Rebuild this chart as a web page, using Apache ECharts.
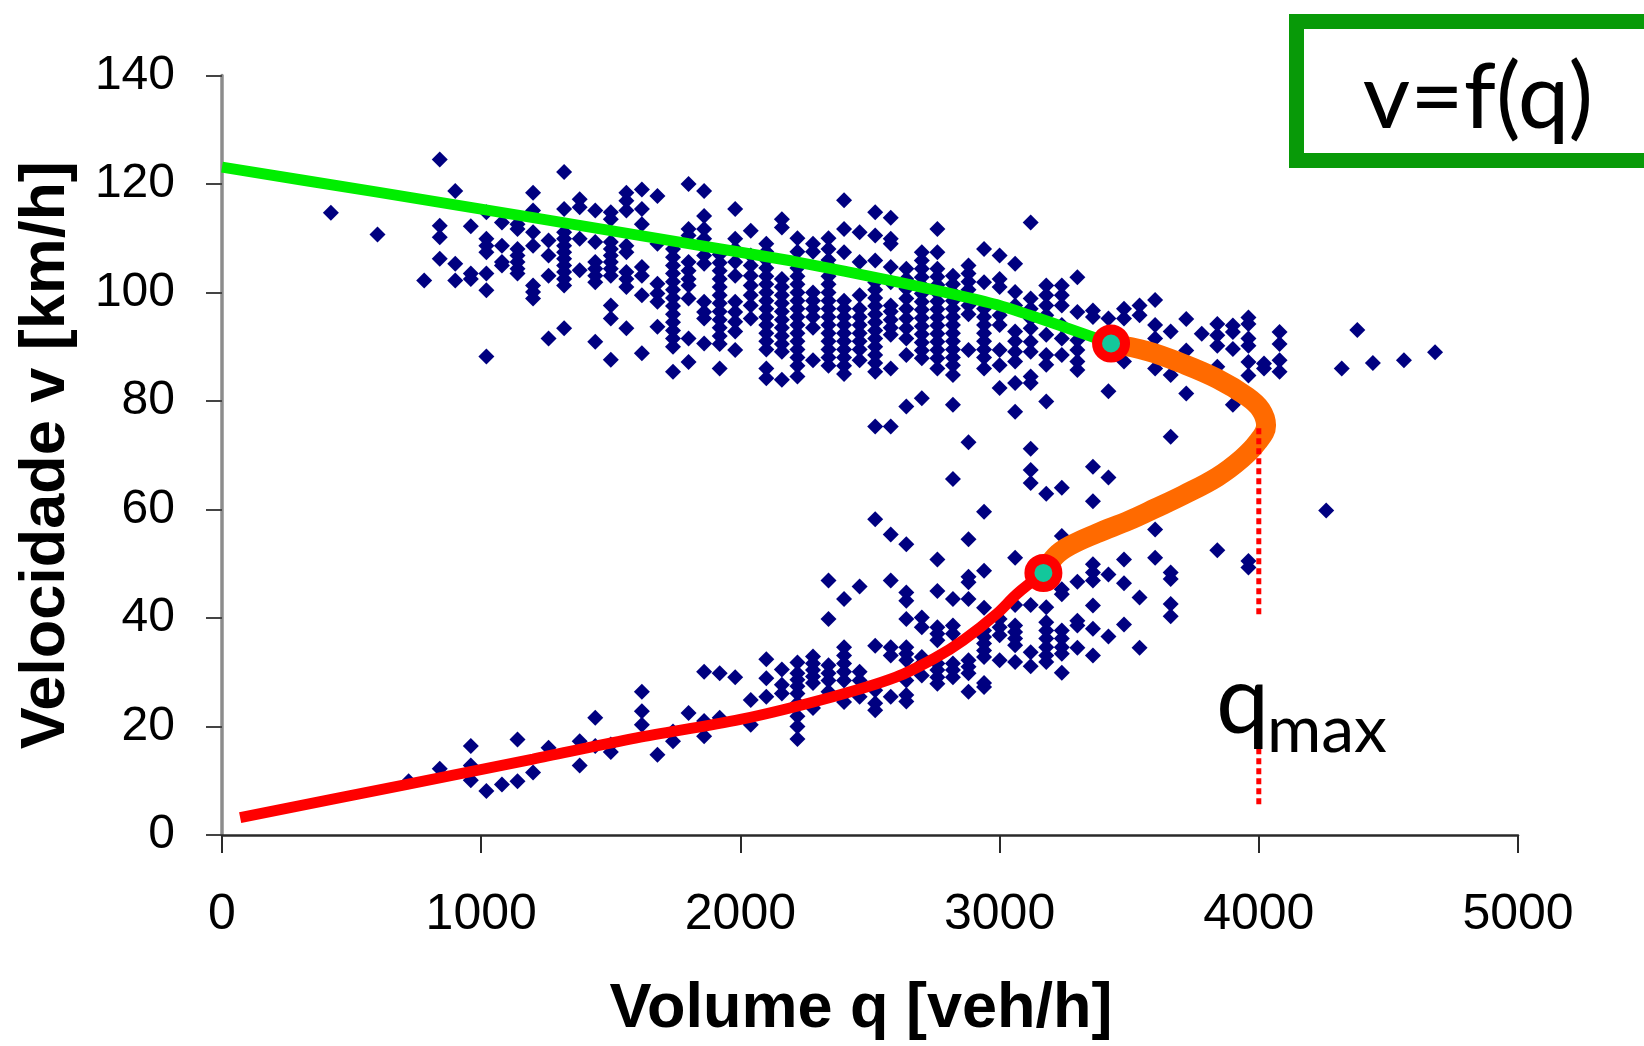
<!DOCTYPE html>
<html>
<head>
<meta charset="utf-8">
<script src="https://cdn.jsdelivr.net/npm/echarts@6/dist/echarts.min.js"></script>
<style>
  html, body { margin: 0; padding: 0; background: #ffffff; }
  #chart { width: 1644px; height: 1046px; }
</style>
</head>
<body>
<div id="chart"></div>
<script>
// ---------- Axis ticks ----------
const xTicks = [0, 1000, 2000, 3000, 4000, 5000];
const yTicks = [0, 20, 40, 60, 80, 100, 120, 140];

// ---------- Observations: upper (free-flow) regime [q, v] ----------
const scatterUpper = [
  [420,114.7],[600,110.7],
  [840,124.5],[840,112.3],[840,110.2],[840,106.2],[780,102.2],
  [900,118.7],[900,105.3],[900,102.2],
  [960,112.2],[960,103.5],[960,102.5],
  [1020,114.8],[1020,109.9],[1020,108.6],[1020,107.4],[1020,103.5],[1020,100.4],[1020,88.2],
  [1080,112.9],[1080,108.6],[1080,105.6],[1080,105],
  [1140,112.6],[1140,111.7],[1140,108],[1140,106.8],[1140,105.6],[1140,104.4],[1140,103.5],
  [1200,118.4],[1200,115.1],[1200,111.1],[1200,108.6],[1200,101.3],[1200,100.1],[1200,98.9],
  [1260,109.6],[1260,106.8],[1260,103.1],[1260,91.5],
  [1320,122.2],[1320,115.4],[1320,111.1],[1320,109.9],[1320,108.6],[1320,107.4],[1320,106.2],[1320,105],[1320,103.8],[1320,102.5],[1320,101.3],[1320,93.4],
  [1380,117.2],[1380,115.7],[1380,109.9],[1380,104.1],
  [1440,115.1],[1440,109.3],[1440,105.6],[1440,104.4],[1440,103.1],[1440,101.9],[1440,90.9],
  [1500,114.8],[1500,113.5],[1500,109.3],[1500,108],[1500,106.8],[1500,105.6],[1500,104.4],[1500,103.1],[1500,97.6],[1500,95.2],[1500,87.6],
  [1560,118.4],[1560,116.9],[1560,115.1],[1560,108.6],[1560,107.4],[1560,103.8],[1560,102.5],[1560,101],[1560,93.4],
  [1620,119],[1620,115.4],[1620,112.6],[1620,104.7],[1620,103.1],[1620,99.5],[1620,88.8],
  [1680,117.8],[1680,109],[1680,101.6],[1680,99.8],[1680,98.3],[1680,93.7],
  [1740,108],[1740,106.5],[1740,105],[1740,103.5],[1740,102],[1740,100.5],[1740,99],[1740,97.5],[1740,96],[1740,94.5],[1740,93],[1740,91.5],[1740,90],[1740,85.4],
  [1800,120],[1800,111.7],[1800,110.5],[1800,105.6],[1800,104],[1800,102.5],[1800,101.3],[1800,98.9],[1800,91.5],[1800,87.2],
  [1860,118.7],[1860,114.1],[1860,111.7],[1860,109.9],[1860,106.8],[1860,105.3],[1860,98.3],[1860,96.4],[1860,95.2],[1860,90.6],
  [1920,107],[1920,105.5],[1920,104],[1920,102.5],[1920,101],[1920,99.5],[1920,98],[1920,96.5],[1920,95],[1920,93.5],[1920,92],[1920,90.5],[1920,86],
  [1980,115.4],[1980,109.9],[1980,108],[1980,105.6],[1980,103.1],[1980,98.3],[1980,96.4],[1980,94.6],[1980,92.8],[1980,89.4],
  [2040,111.4],[2040,106.8],[2040,105],[2040,103.1],[2040,101.3],[2040,99.5],[2040,97.6],[2040,95.2],
  [2100,109],[2100,107.5],[2100,106],[2100,104.5],[2100,103],[2100,101.5],[2100,100],[2100,98.5],[2100,97],[2100,95.5],[2100,94],[2100,92.5],[2100,91],[2100,89.5],[2100,86],[2100,84.2],
  [2160,113.5],[2160,112],[2160,102.5],[2160,101],[2160,99.5],[2160,98],[2160,96.5],[2160,95],[2160,93.5],[2160,92],[2160,90.5],[2160,89.1],[2160,83.9],
  [2220,110],[2220,107.5],[2220,104.5],[2220,103],[2220,101.5],[2220,100],[2220,98.5],[2220,97],[2220,95.5],[2220,94],[2220,92.5],[2220,91],[2220,89.5],[2220,88],[2220,86.5],[2220,84.5],
  [2280,109],[2280,107.5],[2280,100],[2280,98.5],[2280,97],[2280,95.5],[2280,93.5],[2280,87.5],
  [2340,110],[2340,108],[2340,106],[2340,105],[2340,103],[2340,101.5],[2340,100],[2340,98.5],[2340,97],[2340,95.5],[2340,94],[2340,92.5],[2340,91],[2340,89.5],[2340,88],[2340,86.5],
  [2400,117],[2400,111.7],[2400,107.4],[2400,98.5],[2400,97],[2400,95.5],[2400,94],[2400,92.5],[2400,91],[2400,89.5],[2400,88],[2400,86.5],[2400,85],
  [2460,111.1],[2460,105.6],[2460,99.5],[2460,97],[2460,95.5],[2460,94],[2460,92.5],[2460,91],[2460,89.5],[2460,87.5],
  [2520,114.8],[2520,110.5],[2520,105.9],[2520,101.9],[2520,100.5],[2520,99],[2520,97.5],[2520,96],[2520,94.5],[2520,93],[2520,91.5],[2520,90],[2520,88.5],[2520,87],[2520,85.4],
  [2580,113.8],[2580,109.9],[2580,109],[2580,104.7],[2580,101.9],[2580,97.6],[2580,96.5],[2580,95],[2580,93.5],[2580,92.2],[2580,86],
  [2640,104.4],[2640,102.5],[2640,100.7],[2640,98.9],[2640,97],[2640,95.2],[2640,93.4],[2640,91.5],[2640,88.5],[2640,79],
  [2700,107.4],[2700,105.9],[2700,104.4],[2700,102.8],[2700,101.3],[2700,99.8],[2700,98.3],[2700,96.8],[2700,95.3],[2700,93.8],[2700,92.3],[2700,90.8],[2700,89.3],[2700,87.9],[2700,80.5],
  [2760,111.7],[2760,107.4],[2760,104.4],[2760,102.9],[2760,101.4],[2760,99.9],[2760,98.4],[2760,96.9],[2760,95.4],[2760,93.9],[2760,92.4],[2760,90.9],[2760,89.4],[2760,87.9],[2760,86],
  [2820,103.1],[2820,101.5],[2820,100],[2820,98.5],[2820,97],[2820,95.5],[2820,94],[2820,92.5],[2820,91],[2820,89.5],[2820,88],[2820,86.6],[2820,84.8],[2820,79.3],
  [2880,105],[2880,103.5],[2880,102],[2880,100.5],[2880,99],[2880,97.6],[2880,96],[2880,89.4],
  [2940,108],[2940,101.9],[2940,97],[2940,95.5],[2940,94],[2940,92.5],[2940,91],[2940,89.5],[2940,88],[2940,86],
  [3000,106.8],[3000,102.5],[3000,101],[3000,95.8],[3000,94],[3000,89.4],[3000,86.6],[3000,82.4],
  [3060,105.3],[3060,100.1],[3060,97.6],[3060,92.8],[3060,91],[3060,89.1],[3060,87.3],[3060,83.3],[3060,78],
  [3120,112.9],[3120,98.9],[3120,97],[3120,95.2],[3120,93.4],[3120,90.9],[3120,89.1],[3120,84.5],[3120,83.3],
  [3180,101.3],[3180,99.5],[3180,97.6],[3180,95.8],[3180,92.2],[3180,88.5],[3180,86.7],[3180,79.9],
  [3240,101.3],[3240,99.5],[3240,97.6],[3240,94],[3240,91.5],[3240,88.5],
  [3300,102.8],[3300,96.4],[3300,91.2],[3300,89.4],[3300,87.3],[3300,85.7],
  [3360,96.7],[3360,95.5],
  [3420,95.2],[3420,81.8],
  [3480,97],[3480,95.2],[3480,87.3],
  [3540,97.6],[3540,95.8],
  [3600,98.6],[3600,94],[3600,91.5],[3600,86],
  [3660,92.8],[3660,84.8],
  [3720,95.1],[3720,89.3],[3720,81.4],
  [3780,92.4],
  [3840,94.2],[3840,92.1],[3840,90.2],[3840,86.3],
  [3900,93.9],[3900,92.7],[3900,89.6],[3900,79.3],
  [3960,95.4],[3960,94.2],[3960,91.5],[3960,90.2],[3960,87.2],[3960,84.7],
  [4020,86.9],[4020,86],
  [4080,92.7],[4080,90.5],[4080,87.5],[4080,85.4],
  [4320,86],[4380,93.1],[4440,87],[4560,87.5],[4680,89]
];

// ---------- Observations: middle and lower (congested) regime [q, v] ----------
const scatterLower = [
  [3660,73.4],[4260,59.8],[3600,56.3],[3840,52.5],[3600,51.1],[3660,48.4],[3660,47.2],[3960,50.5],[3960,49.3],[3660,42.6],[3660,40.3],
  [2520,75.3],[2580,75.3],[2880,72.4],[3120,71.2],[3120,67.3],[3120,64.9],[3360,67.9],[3420,65.9],[2820,65.6],[3180,62.9],[3240,64],
  [3360,61.5],[2940,59.6],[2520,58.2],[2580,55.4],[2640,53.6],[2880,54.5],[3240,55.1],[2760,50.8],[3060,51.1],[2940,48.7],
  [2880,47.6],[2880,46.6],[2580,46.9],[2340,46.9],[2460,45.8],[3360,49.9],[3360,48.4],[3360,46.9],[3420,48],[3300,46.7],
  [3480,50.8],[3480,46.4],[3240,45.3],[3240,44.4],[2400,43.5],[2640,44.7],[2640,43.2],[2760,45],[2820,43.5],[2880,43.5],
  [3120,42.4],[3180,42],[3060,42.4],[2940,41.9],[3540,43.8],[3360,42.3],[2340,39.8],[2640,39.8],[2700,40.1],[2700,38.3],
  [2760,38.3],[2760,37.1],[2760,35.9],[2820,38.6],[2820,37.1],[2940,37.7],[2940,36.5],[2940,35.3],[2940,34],[2940,32.8],
  [3000,39.8],[3000,38.3],[3000,36.8],[3060,38.6],[3060,37.4],[3060,36.2],[3060,35],[3060,31.9],
  [3180,39.2],[3180,37.7],[3180,36.2],[3180,34.6],[3180,33.1],[3180,31.9],
  [3240,37.7],[3240,36.2],[3240,34.6],[3240,33.4],[3240,29.9],[3300,39.5],[3300,38.6],[3300,34.5],
  [3360,38],[3360,33.1],[3420,36.6],[3480,38.8],[3540,34.5],[3120,33.7],[3120,31.1],[3000,32.2],
  [2880,32.2],[2880,31],[2880,29.8],[2880,26.4],[2940,28],[2940,27.3],[2820,31.6],[2820,30.4],[2820,29.1],
  [2760,31.6],[2760,30.4],[2760,29.1],[2760,27.9],[2700,32.8],[2700,31.6],[2700,29.4],
  [2640,34.6],[2640,33.4],[2640,32.2],[2640,28.5],[2640,25.8],[2640,24.6],[2580,34.6],[2580,33.1],[2580,25.5],
  [2520,34.9],[2520,26.7],[2520,24.3],[2520,23],[2460,30.1],[2460,28.5],[2460,25.5],
  [2400,34.6],[2400,33.1],[2400,31.6],[2400,30.1],[2400,28.5],[2400,24.5],[2340,31.3],[2340,29.8],[2340,28.5],[2340,26.4],
  [720,9.9],[840,12.2],[960,16.4],[960,12.8],[960,10.1],[1020,8.1],[1080,9.3],[1140,17.6],[1140,9.9],[1200,11.5],
  [1260,16.1],[1380,17.3],[1380,12.8],[1440,21.6],[1440,16.4],[1500,16.7],[1500,15.3],[1620,26.4],[1620,22.8],[1620,20.3],
  [1680,14.8],[1740,19.1],[1740,17.3],[1800,22.5],[1860,30.1],[1860,21],[1860,18.2],[1920,29.8],[1920,21.6],[1980,29.1],
  [2040,24.9],[2040,20.3],[2100,32.4],[2100,28.9],[2100,25.5],[2160,30.5],[2160,27.7],[2160,26.1],
  [2220,31.8],[2220,29.8],[2220,28.6],[2220,27.4],[2220,26.1],[2220,24.3],[2220,21.9],[2220,20],[2220,17.7],
  [2280,32.9],[2280,31.6],[2280,30.4],[2280,29.2],[2280,28],[2280,23.4]
];

// ---------- Fitted curves [q, v] ----------
const greenCurve = [[0,123.1],[600,118.5],[1200,113.8],[1800,109],[2200,105.8],[2600,102],[3000,97.6],[3430,90.6]];
const redCurve = [[70,3.2],[700,9.2],[1200,14],[1600,17.9],[2000,21.3],[2350,25.4],[2600,29.1],[2750,32.6],[2860,35.9],[2990,40.8],[3066,44.4],[3169,48.3]];
const orangeCurve = [[3169,48.3],[3215,51.4],[3270,53.3],[3375,55.6],[3500,58],[3600,60.2],[3710,62.7],[3840,66],[3935,69.4],[3995,72.4],[4028,75.5],[4008,78.4],[3955,80.8],[3840,84.1],[3700,87],[3570,89.2],[3430,90.6]];
const breakpoints = [[3169,48.3],[3430,90.6]];

// ---------- q_max marker ----------
const qMax = 4000;
const qMaxUpper = [[qMax,75],[qMax,40.5]];
const qMaxLower = [[qMax,16],[qMax,5.5]];

const chart = echarts.init(document.getElementById('chart'), null, { renderer: 'canvas' });

const dotted = { color: '#ff0000', width: 5, type: [6, 4] };
const diamondStyle = { color: '#000080', opacity: 1 };

chart.setOption({
  backgroundColor: '#ffffff',
  animation: false,
  grid: { left: 222, right: 126, top: 75.5, bottom: 207, containLabel: false },
  xAxis: {
    type: 'value', min: xTicks[0], max: xTicks[xTicks.length - 1], interval: 1000,
    name: 'Volume q [veh/h]', nameLocation: 'middle', nameGap: 143,
    nameTextStyle: { fontFamily: 'Liberation Sans, Arial, sans-serif', fontWeight: 'bold', fontSize: 63, color: '#000', padding: [0, 18, 0, 0] },
    axisLine: { show: true, onZero: false, lineStyle: { color: '#2a2a2a', width: 2.5 } },
    axisTick: { show: true, inside: false, length: 18, lineStyle: { color: '#2a2a2a', width: 2 } },
    axisLabel: { fontFamily: 'Liberation Sans, Arial, sans-serif', fontSize: 50, color: '#000', margin: 55,
      formatter: function (v) { return String(v); } },
    splitLine: { show: false }
  },
  yAxis: {
    type: 'value', min: yTicks[0], max: yTicks[yTicks.length - 1], interval: 20,
    name: 'Velocidade v [km/h]', nameLocation: 'middle', nameGap: 144, nameRotate: 90,
    nameTextStyle: { fontFamily: 'Liberation Sans, Arial, sans-serif', fontWeight: 'bold', fontSize: 63, color: '#000' },
    axisLine: { show: true, onZero: false, lineStyle: { color: '#8c8c8c', width: 3.5 } },
    axisTick: { show: true, inside: false, length: 16, lineStyle: { color: '#444', width: 2 } },
    axisLabel: { fontFamily: 'Liberation Sans, Arial, sans-serif', fontSize: 48, color: '#000', margin: 47,
      formatter: function (v) { return String(v); } },
    splitLine: { show: false }
  },
  series: [
    { type: 'scatter', data: scatterUpper, symbol: 'diamond', symbolSize: 16, itemStyle: diamondStyle, z: 2 },
    { type: 'scatter', data: scatterLower, symbol: 'diamond', symbolSize: 16, itemStyle: diamondStyle, z: 2 },
    { type: 'line', data: greenCurve, smooth: 0.2, showSymbol: false, lineStyle: { color: '#00ee00', width: 11 }, z: 3 },
    { type: 'line', data: redCurve, smooth: 0.3, showSymbol: false, lineStyle: { color: '#ff0000', width: 11, cap: 'butt' }, z: 3 },
    { type: 'line', data: orangeCurve, smooth: 0.4, showSymbol: false, lineStyle: { color: '#ff6a00', width: 20, cap: 'round', join: 'round' }, z: 4 },
    { type: 'line', data: qMaxUpper, showSymbol: false, lineStyle: dotted, z: 5 },
    { type: 'line', data: qMaxLower, showSymbol: false, lineStyle: dotted, z: 5 },
    { type: 'scatter', data: breakpoints, symbol: 'circle', symbolSize: 28,
      itemStyle: { color: '#13c79b', borderColor: '#ff0000', borderWidth: 10, opacity: 1 }, z: 6 }
  ],
  graphic: [
    { type: 'rect', left: 1289, top: 14, shape: { width: 420, height: 139 },
      style: { fill: '#ffffff', stroke: '#089a08', lineWidth: 15 }, z: 10 },
    { type: 'text', x: 1478, y: 98, z: 11,
      style: { text: 'v=f(q)', fontFamily: 'Lato, Open Sans, sans-serif', fontSize: 92, fill: '#000', align: 'center', verticalAlign: 'middle' } },
    { type: 'text', x: 1216, y: 702, z: 11,
      style: { text: 'q', fontFamily: 'Lato, Open Sans, sans-serif', fontSize: 95, fill: '#000', align: 'left', verticalAlign: 'middle' } },
    { type: 'text', x: 1267, y: 731, z: 11,
      style: { text: 'max', fontFamily: 'Lato, Open Sans, sans-serif', fontSize: 66, fill: '#000', align: 'left', verticalAlign: 'middle' } }
  ]
});
</script>
</body>
</html>
